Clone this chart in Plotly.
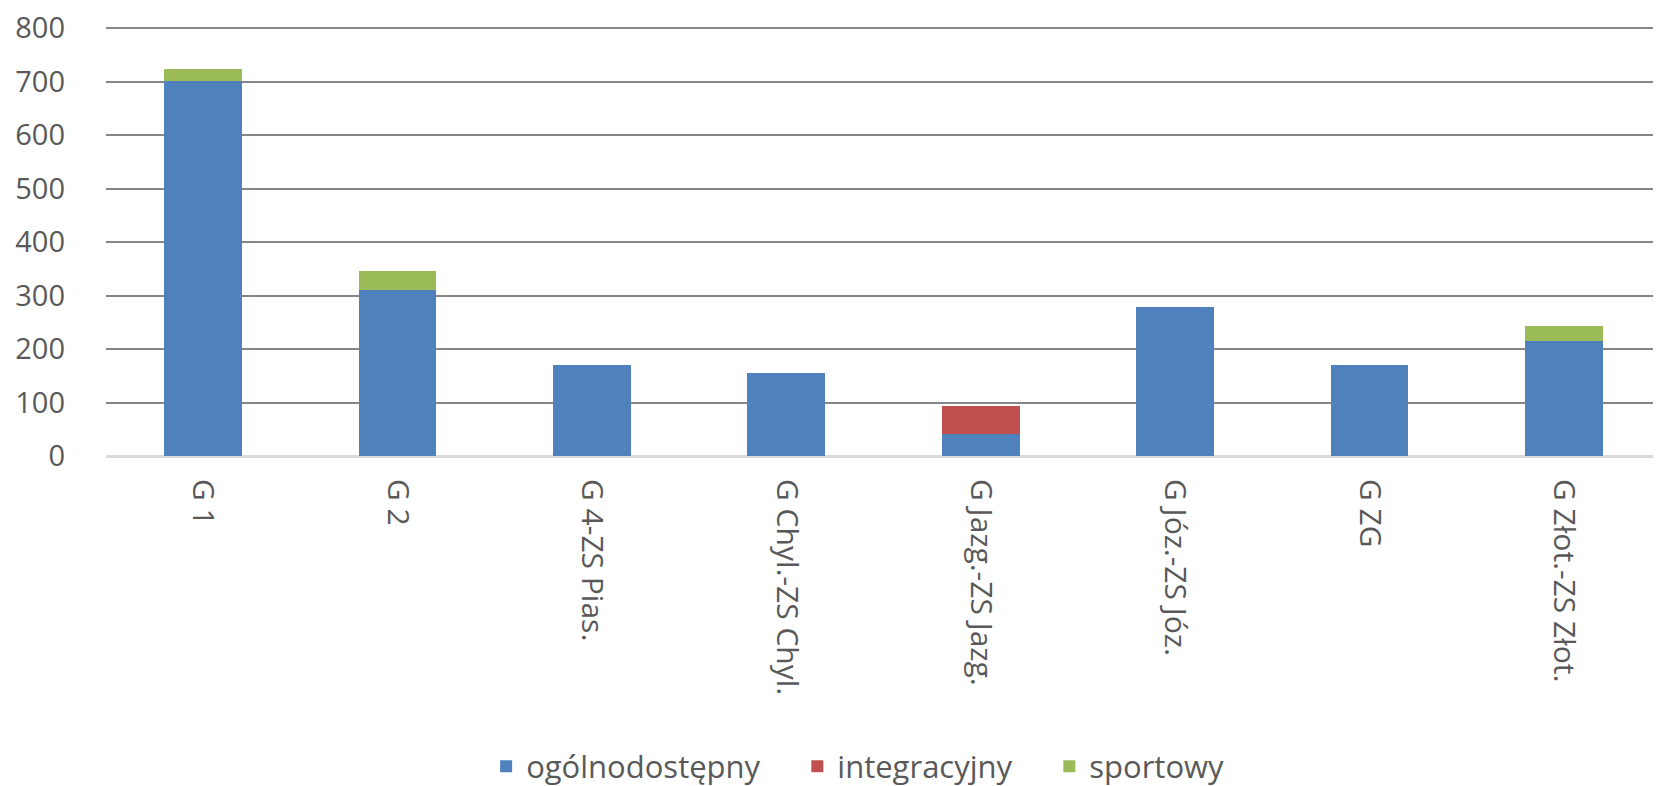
import plotly.graph_objects as go

# szkoły i liczba uczniów wg typu oddziału
schools = ["G 1", "G 2", "G 4-ZS Pias.", "G Chyl.-ZS Chyl.", "G Jazg.-ZS Jazg.",
           "G Józ.-ZS Józ.", "G ZG", "G Złot.-ZS Złot."]
ogolnodostepny = [701, 311, 171, 155, 42, 278, 171, 215]
integracyjny = [0, 0, 0, 0, 51, 0, 0, 0]
sportowy = [23, 35, 0, 0, 0, 0, 0, 29]

y_ticks = [0, 100, 200, 300, 400, 500, 600, 700, 800]

COLORS = ["#4F81BD", "#C0504D", "#9BBB59"]
FONT = "Open Sans, Liberation Sans, sans-serif"
TEXT_COLOR = "#595959"
PAD = "\u00a0" * 4  # odstęp między pozycjami legendy

fig = go.Figure()
series = [("ogólnodostępny" + PAD, ogolnodostepny),
          ("integracyjny" + PAD, integracyjny),
          ("sportowy", sportowy)]
for i, (name, vals) in enumerate(series):
    fig.add_trace(go.Bar(
        x=schools,
        y=vals,
        name=name,
        marker=dict(color=COLORS[i], line=dict(width=0)),
    ))

# strona ma 8px marginesu body, więc figura jest o 8px mniejsza
fig.update_layout(
    barmode="stack",
    bargap=0.6,
    width=1653,
    height=778,
    margin=dict(l=98, r=0, t=17, b=330, autoexpand=False),
    paper_bgcolor="white",
    plot_bgcolor="white",
    font=dict(family=FONT, size=30, color=TEXT_COLOR),
    showlegend=True,
    legend=dict(
        orientation="h",
        xref="container", yref="container",
        x=0.514, xanchor="center",
        y=0.025, yanchor="middle",
        font=dict(size=31, color=TEXT_COLOR),
        traceorder="normal",
    ),
    xaxis=dict(
        tickangle=90,
        showgrid=False,
        showline=False,
        ticks="",
        automargin=False,
        ticklabelstandoff=22,
        tickfont=dict(size=30, color=TEXT_COLOR),
    ),
    yaxis=dict(
        range=[0, 806],
        tickvals=y_ticks,
        showgrid=True,
        gridcolor="#868686",
        gridwidth=2,
        zeroline=True,
        zerolinecolor="#D9D9D9",
        zerolinewidth=3,
        showline=False,
        ticks="",
        automargin=False,
        ticklabeloverflow="allow",
        ticklabelstandoff=40,
        tickfont=dict(size=29, color=TEXT_COLOR),
    ),
)

fig.write_html("out.html")
